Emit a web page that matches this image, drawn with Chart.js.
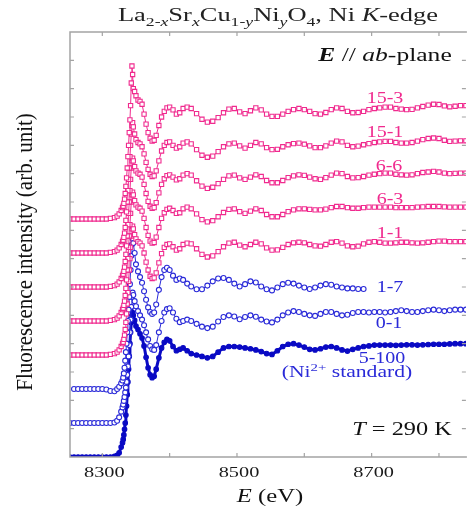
<!DOCTYPE html>
<html>
<head>
<meta charset="utf-8">
<script src="https://cdn.jsdelivr.net/npm/chart.js@4.4.1/dist/chart.umd.min.js"></script>
<style>
  html, body { margin: 0; padding: 0; background: #fff; }
</style>
</head>
<body>
<canvas id="xas" width="471" height="508"></canvas>
<script>
// photon energy grid (eV), shared by all spectra
const energy = [
  8252, 8258, 8264, 8270, 8276, 8282, 8288, 8294, 8300, 8306, 8312, 8318,
  8322, 8325, 8328,
  8330, 8331, 8332, 8333, 8334, 8335, 8336, 8337, 8338, 8339, 8340, 8341, 8342, 8343, 8344, 8345, 8346,
  8348, 8350, 8353, 8356, 8359, 8362, 8365, 8368, 8371, 8374, 8377, 8380, 8384, 8388, 8392, 8396, 8400, 8405, 8410, 8415, 8420, 8426,
  8432, 8440, 8448, 8456, 8464, 8472, 8480, 8488, 8496, 8504,
  8512, 8520, 8528, 8536, 8544, 8552, 8560, 8568, 8576, 8584,
  8592, 8600, 8608, 8616, 8624, 8632, 8640, 8648, 8656, 8664,
  8672, 8680, 8688, 8696, 8704, 8712, 8720, 8728, 8736, 8744,
  8752, 8760, 8768, 8776, 8784, 8792, 8800, 8808, 8816, 8824,
  8832, 8840
];

// fluorescence intensity (arb. unit, offset)
const s15_3 = [
  8.4, 8.4, 8.4, 8.4, 8.4, 8.4, 8.4, 8.4, 8.4, 8.4, 8.42, 8.45,
  8.5, 8.58, 8.7,
  8.8, 8.85, 8.95, 9.1, 9.3, 9.55, 9.85, 10.2, 10.6, 11.0, 11.45, 11.9, 12.4, 13.2, 13.8, 13.5, 13.0,
  12.9, 12.75, 12.6, 12.55, 12.45, 12.1, 11.75, 11.45, 11.25, 11.15, 11.18, 11.35, 11.7, 12.0, 12.2, 12.32, 12.35, 12.25, 12.1, 12.15, 12.3, 12.35,
  12.3, 12.12, 11.92, 11.82, 11.85, 11.98, 12.15, 12.28, 12.3, 12.18,
  12.12, 12.22, 12.32, 12.25, 12.1, 12.02, 12.02, 12.1, 12.2, 12.26,
  12.3, 12.26, 12.2, 12.12, 12.1, 12.16, 12.26, 12.32, 12.3, 12.2,
  12.15, 12.16, 12.2, 12.26, 12.3, 12.32, 12.35, 12.35, 12.3, 12.28,
  12.26, 12.27, 12.32, 12.37, 12.42, 12.45, 12.44, 12.39, 12.36, 12.38,
  12.4, 12.4
];
const s15_1 = [
  7.2, 7.2, 7.2, 7.2, 7.2, 7.2, 7.2, 7.2, 7.2, 7.2, 7.22, 7.25,
  7.3, 7.38, 7.5,
  7.6, 7.65, 7.75, 7.9, 8.1, 8.35, 8.65, 9.0, 9.4, 9.8, 10.2, 10.6, 11.0, 11.4, 11.7, 11.8, 11.65,
  11.4, 11.2, 11.1, 11.05, 10.95, 10.7, 10.4, 10.15, 9.98, 9.9, 9.92, 10.1, 10.45, 10.8, 11.0, 11.1, 11.12, 11.0, 10.9, 10.95, 11.08, 11.12,
  11.05, 10.85, 10.65, 10.58, 10.62, 10.78, 10.95, 11.05, 11.08, 10.98,
  10.9, 11.0, 11.1, 11.05, 10.92, 10.85, 10.86, 10.95, 11.02, 11.06,
  11.08, 11.04, 10.98, 10.92, 10.92, 10.98, 11.08, 11.15, 11.12, 11.0,
  10.95, 10.97, 11.02, 11.06, 11.1, 11.12, 11.14, 11.14, 11.1, 11.08,
  11.08, 11.1, 11.15, 11.2, 11.24, 11.26, 11.24, 11.18, 11.14, 11.15,
  11.16, 11.16
];
const s6_6 = [
  6.0, 6.0, 6.0, 6.0, 6.0, 6.0, 6.0, 6.0, 6.0, 6.0, 6.02, 6.05,
  6.1, 6.18, 6.3,
  6.4, 6.45, 6.55, 6.7, 6.9, 7.15, 7.45, 7.8, 8.2, 8.6, 9.0, 9.4, 9.8, 10.2, 10.45, 10.55, 10.45,
  10.25, 10.1, 10.02, 9.98, 9.88, 9.62, 9.3, 9.02, 8.85, 8.78, 8.8, 8.98, 9.32, 9.62, 9.82, 9.93, 9.96, 9.88, 9.78, 9.82, 9.95, 10.0,
  9.95, 9.75, 9.56, 9.48, 9.52, 9.65, 9.8, 9.92, 9.95, 9.85,
  9.8, 9.88, 9.96, 9.9, 9.76, 9.68, 9.68, 9.76, 9.86, 9.92,
  9.96, 9.94, 9.88, 9.82, 9.8, 9.86, 9.95, 10.02, 10.0, 9.9,
  9.85, 9.86, 9.9, 9.95, 9.98, 10.0, 10.02, 10.02, 9.98, 9.96,
  9.95, 9.96, 10.0, 10.04, 10.06, 10.08, 10.06, 10.02, 10.0, 10.01,
  10.02, 10.02
];
const s6_3 = [
  4.8, 4.8, 4.8, 4.8, 4.8, 4.8, 4.8, 4.8, 4.8, 4.8, 4.82, 4.85,
  4.9, 4.98, 5.1,
  5.2, 5.25, 5.35, 5.5, 5.7, 5.95, 6.25, 6.6, 7.0, 7.4, 7.8, 8.2, 8.6, 9.0, 9.25, 9.35, 9.25,
  9.05, 8.9, 8.82, 8.78, 8.68, 8.42, 8.1, 7.82, 7.62, 7.55, 7.57, 7.76, 8.1, 8.42, 8.62, 8.74, 8.78, 8.7, 8.6, 8.62, 8.76, 8.82,
  8.76, 8.58, 8.38, 8.3, 8.34, 8.48, 8.63, 8.74, 8.76, 8.66,
  8.6, 8.68, 8.76, 8.7, 8.56, 8.48, 8.48, 8.56, 8.66, 8.72,
  8.76, 8.76, 8.74, 8.72, 8.72, 8.75, 8.8, 8.84, 8.84, 8.8,
  8.78, 8.78, 8.8, 8.82, 8.82, 8.82, 8.82, 8.82, 8.8, 8.8,
  8.8, 8.8, 8.82, 8.83, 8.84, 8.84, 8.84, 8.83, 8.82, 8.82,
  8.82, 8.82
];
const s1_1 = [
  3.6, 3.6, 3.6, 3.6, 3.6, 3.6, 3.6, 3.6, 3.6, 3.6, 3.62, 3.65,
  3.7, 3.78, 3.9,
  4.0, 4.05, 4.15, 4.3, 4.5, 4.75, 5.05, 5.4, 5.8, 6.2, 6.6, 7.0, 7.4, 7.8, 8.05, 8.15, 8.05,
  7.85, 7.7, 7.6, 7.55, 7.45, 7.2, 6.88, 6.6, 6.38, 6.3, 6.32, 6.5, 6.85, 7.18, 7.4, 7.5, 7.52, 7.42, 7.3, 7.35, 7.5, 7.55,
  7.52, 7.35, 7.15, 7.06, 7.1, 7.25, 7.42, 7.55, 7.58, 7.48,
  7.42, 7.5, 7.58, 7.52, 7.38, 7.3, 7.31, 7.4, 7.5, 7.56,
  7.58, 7.56, 7.5, 7.45, 7.44, 7.5, 7.58, 7.6, 7.55, 7.45,
  7.42, 7.44, 7.52, 7.58, 7.6, 7.58, 7.55, 7.55, 7.56, 7.58,
  7.58, 7.56, 7.55, 7.56, 7.58, 7.6, 7.62, 7.62, 7.6, 7.6,
  7.6, 7.6
];
const s1_7 = [
  null, 2.4, 2.4, 2.4, 2.4, 2.4, 2.4, 2.4, 2.4, 2.38, 2.33, 2.32,
  2.4, 2.48, 2.6,
  2.7, 2.8, 2.95, 3.15, 3.4, 3.7, 4.0, 4.4, 4.8, 5.2, 5.65, 6.1, 6.6, 7.1, 7.5, 7.7, 7.55,
  7.2, 6.8, 6.55, 6.35, 6.15, 5.85, 5.55, 5.28, 5.12, 5.05, 5.1, 5.38, 5.9, 6.35, 6.6, 6.68, 6.6, 6.4, 6.25, 6.3, 6.25, 6.12,
  6.02, 5.92, 5.92, 6.05, 6.2, 6.3, 6.32, 6.25, 6.12, 6.02,
  6.1, 6.2, 6.16, 6.02, 5.92, 5.88, 5.98, 6.1, 6.15, 6.12,
  6.05, 5.98, 5.93, 5.98, 6.05, 6.1, 6.08, 6.02, 5.98, 5.95,
  5.95, 5.93, 5.93, null, null, null, null, null, null, null,
  null, null, null, null, null, null, null, null, null, null,
  null, null
];
const s0_1 = [
  1.2, 1.2, 1.2, 1.2, 1.2, 1.2, 1.2, 1.2, 1.2, 1.2, 1.2, 1.22,
  1.28, 1.4, 1.6,
  1.75, 1.85, 1.98, 2.12, 2.28, 2.45, 2.65, 2.9, 3.2, 3.55, 3.95, 4.4, 4.85, 5.3, 5.65, 5.8, 5.72,
  5.5, 5.32, 5.15, 5.0, 4.85, 4.65, 4.4, 4.15, 3.92, 3.8, 3.78, 3.95, 4.4, 4.8, 5.1, 5.22, 5.25, 5.1, 4.88, 4.76, 4.8, 4.85,
  4.8, 4.7, 4.6, 4.55, 4.6, 4.78, 4.94, 5.0, 4.96, 4.86,
  4.94, 5.0, 4.95, 4.85, 4.78, 4.75, 4.85, 5.0, 5.1, 5.15,
  5.12, 5.05, 5.0, 4.98, 5.05, 5.12, 5.12, 5.05, 5.0, 5.02,
  5.08, 5.12, 5.12, 5.1, 5.12, 5.12, 5.1, 5.12, 5.15, 5.18,
  5.15, 5.12, 5.12, 5.15, 5.18, 5.2, 5.18, 5.15, 5.18, 5.2,
  5.2, 5.2
];
const s5_100 = [
  0, 0, 0, 0, 0, 0, 0, 0, 0, 0, 0, 0.02,
  0.06, 0.15, 0.35,
  0.5, 0.62, 0.78, 0.98, 1.2, 1.48, 1.8, 2.2, 2.65, 3.1, 3.55, 4.0, 4.4, 4.75, 5.0, 5.1, 5.0,
  4.82, 4.62, 4.5, 4.35, 4.2, 3.92, 3.52, 3.15, 2.9, 2.8, 2.85, 3.1, 3.5, 3.85, 4.05, 4.15, 4.1, 3.9, 3.75, 3.8, 3.85, 3.75,
  3.65, 3.6, 3.55, 3.5, 3.55, 3.7, 3.85, 3.9, 3.9, 3.88,
  3.85, 3.82, 3.78, 3.72, 3.65, 3.62, 3.75, 3.9, 3.98, 4.0,
  3.95, 3.88, 3.8, 3.78, 3.82, 3.88, 3.9, 3.85, 3.78, 3.74,
  3.8, 3.85, 3.9, 3.92, 3.95, 3.95, 3.95, 3.95, 3.94, 3.95,
  3.96, 3.96, 3.95, 3.96, 3.97, 3.98, 3.98, 3.98, 3.99, 4.0,
  4.0, 4.0
];

const sampleNames = ["15-3", "15-1", "6-6", "6-3", "1-1", "1-7", "0-1", "5-100"];
const spectra = [s15_3, s15_1, s6_6, s6_3, s1_1, s1_7, s0_1, s5_100];
const xTickLabels = [8300, 8500, 8700];

const PINK = "#f02a8e";
const BLUE = "#2a2ad8";
const NAVY = "#0a0ac4";
const SERIF = '"Liberation Serif", "Times New Roman", serif';

// label anchors in pixels (centre x, baseline y)
const labelAt = {
  "15-3": [385, 103], "15-1": [385, 137], "6-6": [389, 171], "6-3": [390, 204],
  "1-1": [390, 238], "1-7": [390, 292], "0-1": [389, 328], "5-100": [382, 363]
};

function styleFor(i) {
  if (i < 5) return { color: PINK, shape: "rect", r: 3.0, fill: "#fff", line: 1 };
  if (i < 7) return { color: BLUE, shape: "circle", r: 2.5, fill: "#fff", line: 1 };
  return { color: NAVY, shape: "circle", r: 2.3, fill: NAVY, line: 3 };
}

const datasets = spectra.map((vals, i) => {
  const st = styleFor(i);
  return {
    label: sampleNames[i],
    data: energy.map((e, k) => ({ x: e, y: vals[k] })),
    borderColor: st.color,
    borderWidth: st.line,
    pointStyle: st.shape,
    pointRadius: st.r,
    pointBorderWidth: 1.1,
    pointBorderColor: st.color,
    pointBackgroundColor: st.fill,
    tension: 0,
    spanGaps: false,
  };
});

// text with sub/superscripts, stretched horizontally like the original
function drawRich(ctx, runs, x, y, size, stretch, color) {
  const fontOf = (r) => {
    const px = (r.sub || r.sup) ? Math.round(size * 0.68) : size;
    return `${r.i ? "italic " : ""}${r.b ? "bold " : ""}${px}px ${SERIF}`;
  };
  let w = 0;
  runs.forEach((r) => { ctx.font = fontOf(r); w += ctx.measureText(r.t).width; });
  ctx.save();
  ctx.translate(x, y);
  ctx.scale(stretch, 1);
  ctx.fillStyle = color;
  ctx.textAlign = "left";
  ctx.textBaseline = "alphabetic";
  let cx = -w / 2;
  runs.forEach((r) => {
    ctx.font = fontOf(r);
    const dy = r.sub ? size * 0.3 : r.sup ? -size * 0.38 : 0;
    ctx.fillText(r.t, cx, dy);
    cx += ctx.measureText(r.t).width;
  });
  ctx.restore();
}

const framePlugin = {
  id: "frame",
  afterDraw(chart) {
    const { ctx, chartArea: a, scales } = chart;
    const xs = scales.x, ys = scales.y;
    ctx.save();
    ctx.strokeStyle = "#a4a4a4";
    ctx.lineWidth = 1.5;
    ctx.beginPath();
    ctx.moveTo(a.right + 1, a.top); ctx.lineTo(a.left, a.top);
    ctx.lineTo(a.left, a.bottom); ctx.lineTo(a.right + 1, a.bottom);
    ctx.stroke();
    ctx.lineWidth = 1.2;
    ctx.beginPath();
    for (let v = 8300; v <= 8800; v += 100) {
      const px = xs.getPixelForValue(v);
      ctx.moveTo(px, a.bottom); ctx.lineTo(px, a.bottom - 4);
      ctx.moveTo(px, a.top); ctx.lineTo(px, a.top + 4);
    }
    for (let v = 1; v < 15; v++) {
      const py = ys.getPixelForValue(v);
      ctx.moveTo(a.left, py); ctx.lineTo(a.left + 4, py);
      ctx.moveTo(a.right, py); ctx.lineTo(a.right - 4, py);
    }
    ctx.stroke();
    ctx.restore();

    xTickLabels.forEach((v) => {
      drawRich(ctx, [{ t: String(v) }], xs.getPixelForValue(v) + 2, 477, 14, 1.45, "#1a1a1a");
    });

    drawRich(ctx, [
      { t: "La" }, { t: "2-", sub: 1 }, { t: "x", sub: 1, i: 1 }, { t: "Sr" }, { t: "x", sub: 1, i: 1 },
      { t: "Cu" }, { t: "1-", sub: 1 }, { t: "y", sub: 1, i: 1 }, { t: "Ni" }, { t: "y", sub: 1, i: 1 },
      { t: "O" }, { t: "4", sub: 1 }, { t: ", Ni " }, { t: "K", i: 1 }, { t: "-edge" }
    ], 278, 21, 18, 1.47, "#222");

    drawRich(ctx, [{ t: "E", b: 1, i: 1 }, { t: " // " }, { t: "ab", i: 1 }, { t: "-plane" }], 385, 61, 18, 1.42, "#111");
    drawRich(ctx, [{ t: "T", i: 1 }, { t: " = 290 K" }], 402, 435, 18, 1.35, "#111");
    drawRich(ctx, [{ t: "E", i: 1 }, { t: " (eV)" }], 270, 502, 18, 1.37, "#111");

    sampleNames.forEach((name, i) => {
      const [lx, ly] = labelAt[name];
      drawRich(ctx, [{ t: name }], lx, ly, 16, 1.25, i < 5 ? PINK : BLUE);
    });
    drawRich(ctx, [{ t: "(Ni" }, { t: "2+", sup: 1 }, { t: " standard)" }], 347, 377, 16, 1.35, BLUE);

    // rotated y-axis title
    ctx.save();
    ctx.translate(32, 252);
    ctx.rotate(-Math.PI / 2);
    ctx.scale(1.0, 1.12);
    ctx.font = `21px ${SERIF}`;
    ctx.fillStyle = "#111";
    ctx.textAlign = "center";
    ctx.textBaseline = "alphabetic";
    ctx.fillText("Fluorescence intensity (arb. unit)", 0, 0);
    ctx.restore();
  }
};

new Chart(document.getElementById("xas"), {
  type: "line",
  data: { datasets },
  options: {
    responsive: false,
    animation: false,
    devicePixelRatio: 1,
    layout: { padding: { top: 32, left: 0, right: 0, bottom: 0 } },
    plugins: { legend: { display: false }, tooltip: { enabled: false } },
    scales: {
      x: {
        type: "linear", min: 8252, max: 8840,
        grid: { display: false }, border: { display: false },
        ticks: { display: false },
        afterFit: (s) => { s.height = 51; },
      },
      y: {
        min: 0, max: 15,
        grid: { display: false }, border: { display: false },
        ticks: { display: false },
        afterFit: (s) => { s.width = 70; },
      },
    },
  },
  plugins: [framePlugin],
});
</script>
</body>
</html>
